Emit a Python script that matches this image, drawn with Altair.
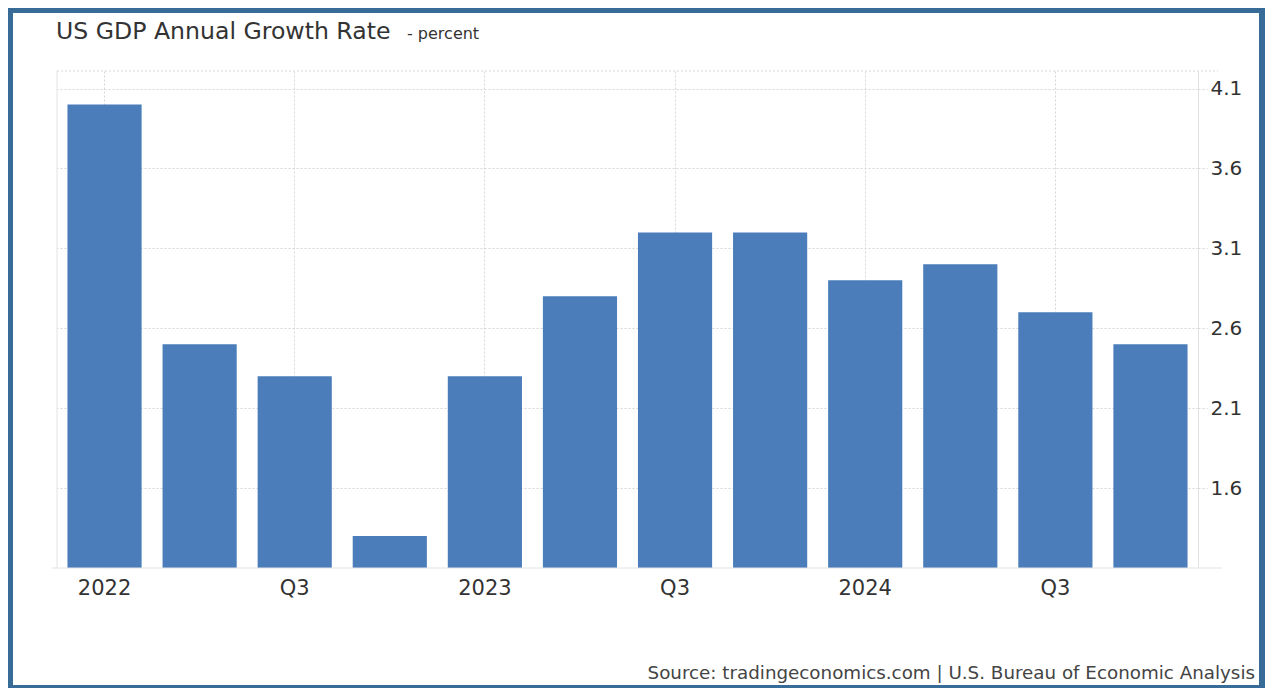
import altair as alt
import pandas as pd

quarters = ["2022 Q1", "2022 Q2", "2022 Q3", "2022 Q4",
            "2023 Q1", "2023 Q2", "2023 Q3", "2023 Q4",
            "2024 Q1", "2024 Q2", "2024 Q3", "2024 Q4"]
growth = [4.0, 2.5, 2.3, 1.3, 2.3, 2.8, 3.2, 3.2, 2.9, 3.0, 2.7, 2.5]
y_ticks = [1.6, 2.1, 2.6, 3.1, 3.6, 4.1]
x_tick_quarters = ["2022 Q1", "2022 Q3", "2023 Q1", "2023 Q3", "2024 Q1", "2024 Q3"]
title_text = "US GDP Annual Growth Rate"
unit_text = "- percent"
source_text = "Source: tradingeconomics.com | U.S. Bureau of Economic Analysis"

W, H = 1141, 497
FONT = "DejaVu Sans"
GRID = "#d6d6d6"
LINE = "#e2e2e2"
BAR = "#4a7db9"
FRAME = "#376b98"
TXT = "#333333"

df = pd.DataFrame({"quarter": quarters, "growth": growth})
one = pd.DataFrame({"k": [0]})

bars = alt.Chart(df).mark_bar(color=BAR, clip=True).encode(
    x=alt.X("quarter:N", sort=quarters, title=None,
            scale=alt.Scale(paddingInner=0.22, paddingOuter=0.11),
            axis=alt.Axis(values=x_tick_quarters,
                          labelExpr="indexof(datum.value, 'Q1') >= 0 ? substring(datum.value, 0, 4) : 'Q3'",
                          labelAngle=0, ticks=False, domain=False,
                          grid=True, gridColor=GRID, gridDash=[2, 2], bandPosition=0.5,
                          labelFont=FONT, labelFontSize=21, labelColor=TXT,
                          labelPadding=9)),
    y=alt.Y("growth:Q", title=None,
            scale=alt.Scale(domain=[1.1, 4.21], nice=False, zero=False),
            axis=alt.Axis(orient="right", values=y_ticks, format=".1f",
                          domainColor=LINE, tickColor=GRID, tickDash=[2, 2], tickSize=9,
                          grid=True, gridColor=GRID, gridDash=[2, 2],
                          labelFont=FONT, labelFontSize=20, labelColor=TXT,
                          labelPadding=3)),
)

top_rule = alt.Chart(one).mark_rule(color=GRID, strokeDash=[2, 2]).encode(
    x=alt.value(0), x2=alt.value(W + 20), y=alt.value(0))
bottom_rule = alt.Chart(one).mark_rule(color=LINE).encode(
    x=alt.value(-5), x2=alt.value(W + 24), y=alt.value(H))
left_rule = alt.Chart(one).mark_rule(color=LINE).encode(
    x=alt.value(0), y=alt.value(0), y2=alt.value(H))

title = alt.Chart(one).mark_text(text=title_text, font=FONT, fontSize=23.6, color=TXT,
                                 align="left", baseline="alphabetic").encode(
    x=alt.value(-1), y=alt.value(-32))
unit = alt.Chart(one).mark_text(text=unit_text, font=FONT, fontSize=16, color=TXT,
                                align="left", baseline="alphabetic").encode(
    x=alt.value(350), y=alt.value(-32))
source = alt.Chart(one).mark_text(text=source_text, font=FONT, fontSize=18.3, color="#444444",
                                  align="right", baseline="alphabetic").encode(
    x=alt.value(1198), y=alt.value(608))

frame = alt.Chart(one).mark_rect(fill=None, stroke=FRAME, strokeWidth=12).encode(
    x=alt.value(-50), x2=alt.value(1208), y=alt.value(-64), y2=alt.value(620))

chart = alt.layer(bars, top_rule, bottom_rule, left_rule, title, unit, source, frame).properties(
    width=W, height=H,
    autosize=alt.AutoSizeParams(type="none"),
    padding={"left": 49, "top": 63, "right": 67, "bottom": 120},
    background="white",
).configure_view(stroke=None)

chart.save("out.html", embed_options={"renderer": "svg", "actions": False})
